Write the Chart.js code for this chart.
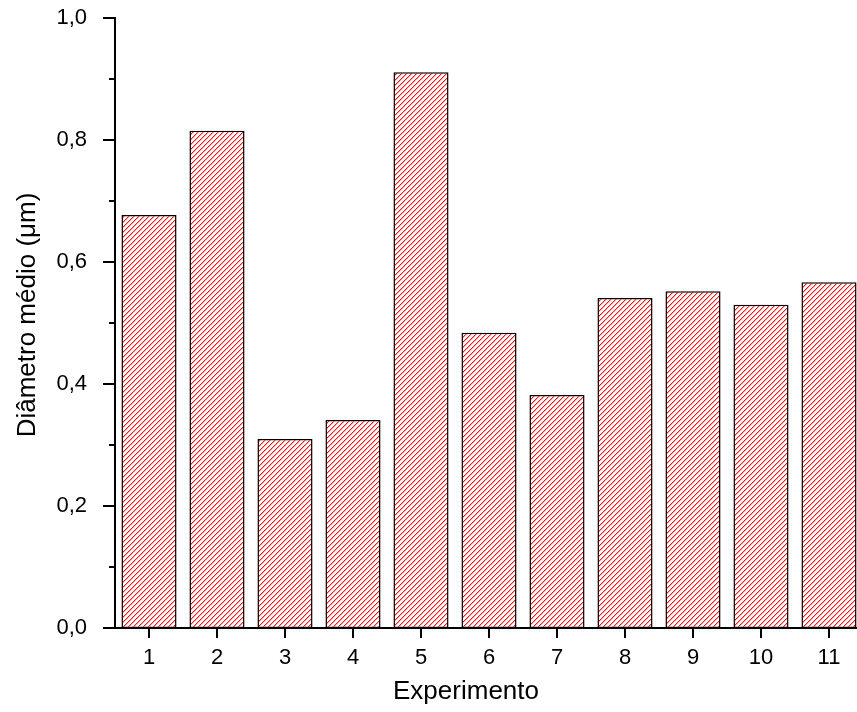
<!DOCTYPE html>
<html lang="pt">
<head>
<meta charset="UTF-8">
<title>Diâmetro médio por experimento</title>
<script src="https://cdn.jsdelivr.net/npm/chart.js@4"></script>
<style>
  html, body { margin: 0; padding: 0; background: #fff; overflow: hidden; }
  .chart-box { position: relative; width: 870px; height: 712px; }
</style>
</head>
<body>
<div class="chart-box"><canvas id="grafico" width="870" height="712"></canvas></div>
<script>
// dados dos experimentos
const experimentos = ['1', '2', '3', '4', '5', '6', '7', '8', '9', '10', '11'];
const diametros = [0.677, 0.815, 0.310, 0.341, 0.911, 0.484, 0.382, 0.541, 0.552, 0.530, 0.567];
const limitesY = [0, 1.0];
const passoY = 0.2;
const tituloX = 'Experimento';
const tituloY = 'Diâmetro médio (μm)';

const ctx = document.getElementById('grafico').getContext('2d');

// hachura diagonal vermelha (tipo "/"), traço em escada com borda suavizada
function hachura(tam, cor, corSuave) {
  const c = document.createElement('canvas');
  c.width = tam; c.height = tam;
  const g = c.getContext('2d');
  g.fillStyle = '#ffffff';
  g.fillRect(0, 0, tam, tam);
  for (let i = 0; i < tam; i++) {
    const j = tam - 1 - i;
    g.fillStyle = corSuave;
    g.fillRect((i + 1) % tam, j, 1, 1);
    g.fillStyle = cor;
    g.fillRect(i, j, 1, 1);
  }
  return ctx.createPattern(c, 'repeat');
}

const fonte = "'Liberation Sans', Arial, sans-serif";

// eixos, marcas e títulos dos eixos
const marcas = {
  id: 'marcas',
  afterDatasetsDraw(chart) {
    const { ctx, chartArea: a, scales: { x, y } } = chart;
    ctx.save();
    ctx.strokeStyle = '#000';
    ctx.lineWidth = 2;
    ctx.beginPath();
    const vals = y.ticks.map(t => t.value);
    vals.forEach((v, i) => {
      const py = Math.round(y.getPixelForValue(v));
      ctx.moveTo(a.left - 12, py); ctx.lineTo(a.left, py);
      if (i < vals.length - 1) {
        const pm = Math.round(y.getPixelForValue((v + vals[i + 1]) / 2));
        ctx.moveTo(a.left - 6, pm); ctx.lineTo(a.left, pm);
      }
    });
    experimentos.forEach((_, i) => {
      const px = Math.round(x.getPixelForValue(i));
      ctx.moveTo(px, a.bottom); ctx.lineTo(px, a.bottom + 10);
    });
    ctx.moveTo(a.left, a.top - 1);
    ctx.lineTo(a.left, a.bottom);
    ctx.lineTo(a.right, a.bottom);
    ctx.stroke();

    ctx.fillStyle = '#000';
    ctx.font = '26px ' + fonte;
    ctx.textAlign = 'center';
    ctx.textBaseline = 'middle';
    ctx.fillText(tituloX, 466, 692);
    ctx.translate(28, 315);
    ctx.rotate(-Math.PI / 2);
    ctx.fillText(tituloY, 0, 0);
    ctx.restore();
  }
};

const preenchimento = hachura(5, '#ff1010', '#ffa8a8');

new Chart(ctx, {
  type: 'bar',
  data: {
    labels: experimentos,
    datasets: [{
      data: diametros,
      backgroundColor: preenchimento,
      hoverBackgroundColor: preenchimento,
      borderColor: '#000',
      borderWidth: 1.5,
      borderSkipped: false,
      barPercentage: 0.81,
      categoryPercentage: 1
    }]
  },
  options: {
    responsive: false,
    animation: false,
    devicePixelRatio: 1,
    layout: { padding: { left: 0, top: 18, right: 7, bottom: 0 } },
    plugins: { legend: { display: false }, tooltip: { enabled: false } },
    scales: {
      x: {
        grid: { display: false },
        border: { display: false },
        ticks: { color: '#000', padding: 9, font: { family: fonte, size: 22 } },
        afterFit(s) { s.height = 84; s.paddingLeft = 0; s.paddingRight = 0; }
      },
      y: {
        min: limitesY[0],
        max: limitesY[1],
        grid: { display: false },
        border: { display: false },
        ticks: {
          stepSize: passoY, color: '#000', padding: 20,
          font: { family: fonte, size: 22 },
          callback: v => v.toFixed(1).replace('.', ',')
        },
        afterFit(s) { s.width = 115; s.paddingTop = 0; s.paddingBottom = 0; }
      }
    }
  },
  plugins: [marcas]
});
</script>
</body>
</html>
